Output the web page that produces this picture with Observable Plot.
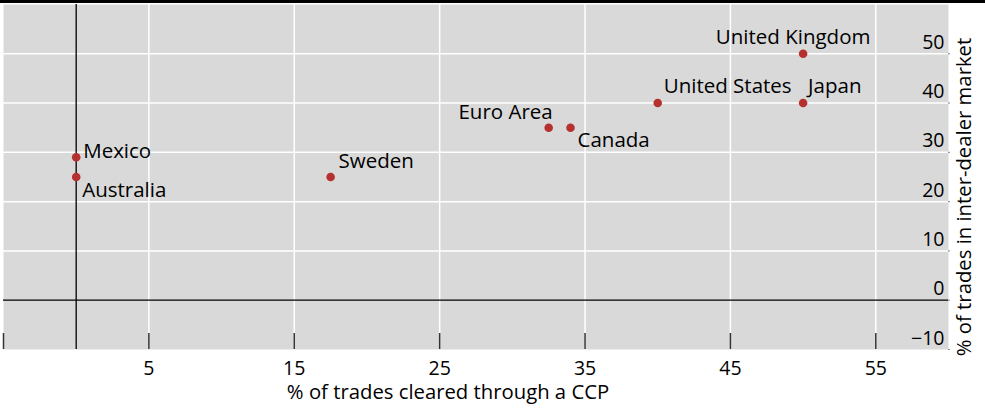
<!DOCTYPE html>
<html>
<head>
<meta charset="utf-8">
<script src="https://cdn.jsdelivr.net/npm/d3@7"></script>
<script src="https://cdn.jsdelivr.net/npm/@observablehq/plot@0.6"></script>
<style>
  html, body { margin: 0; padding: 0; background: #fff; }
  #chart { width: 985px; border-top: 3px solid #000; }
  #chart svg { display: block; }
</style>
</head>
<body>
<div id="chart"></div>
<script>
// ---- data ----
const countries = ["Mexico", "Australia", "Sweden", "Euro Area", "Canada", "United States", "Japan", "United Kingdom"];
const clearedCCP = [0, 0, 17.5, 32.5, 34, 40, 50, 50];          // % of trades cleared through a CCP
const interDealer = [29, 25, 25, 35, 35, 40, 40, 50];           // % of trades in inter-dealer market
const xTickLabels = [5, 15, 25, 35, 45, 55];
const xTickMarks = [-5, 5, 15, 25, 35, 45, 55];
const yTickLabels = [-10, 0, 10, 20, 30, 40, 50];
const yGrid = [10, 20, 30, 40, 50];
const xTitle = "% of trades cleared through a CCP";
const yTitle = "% of trades in inter-dealer market";

const data = countries.map((c, i) => ({country: c, x: clearedCCP[i], y: interDealer[i]}));

// ---- label placement (layout only) ----
const placement = {
  "Mexico":         {dx: 7,   dy: -6,  anchor: "start"},
  "Australia":      {dx: 6,   dy: 13,  anchor: "start"},
  "Sweden":         {dx: 8,   dy: -16, anchor: "start"},
  "Euro Area":      {dx: 4,   dy: -15, anchor: "end"},
  "Canada":         {dx: 7,   dy: 13,  anchor: "start"},
  "United States":  {dx: 6,   dy: -17, anchor: "start"},
  "Japan":          {dx: 5,   dy: -17, anchor: "start"},
  "United Kingdom": {dx: -10, dy: -16, anchor: "middle"}
};

const W = 985, H = 405;
const mT = 1, mB = 59, mL = 3, mR = 37;
const frameH = H - mT - mB;
const frameW = W - mL - mR;
const font = "'Open Sans', 'Noto Sans', sans-serif";
const fmt = d3.format("d");

const labelMarks = data.map(d => {
  const p = placement[d.country];
  return Plot.text([d], {x: "x", y: "y", text: "country", dx: p.dx, dy: p.dy,
    textAnchor: p.anchor, fontSize: 20.5, fontWeight: 500, fill: "#000"});
});

const chart = Plot.plot({
  width: W, height: H,
  marginTop: mT, marginBottom: mB, marginLeft: mL, marginRight: mR,
  style: {fontFamily: font, background: "#fff", overflow: "visible"},
  x: {domain: [-5, 60], axis: null},
  y: {domain: [-10, 60], axis: null},
  marks: [
    Plot.frame({fill: "#d9d9d9", stroke: null}),
    Plot.ruleX(xTickLabels, {stroke: "#fff", strokeWidth: 1.5}),
    Plot.ruleY(yGrid, {stroke: "#fff", strokeWidth: 1.5}),
    Plot.ruleX([0], {stroke: "#000", strokeWidth: 1.3}),
    Plot.ruleY([0], {stroke: "#000", strokeWidth: 1.3}),
    Plot.ruleX(xTickMarks, {insetTop: frameH - 16, stroke: "#333", strokeWidth: 1.5}),
    Plot.ruleY(yTickLabels, {insetLeft: frameW, insetRight: -2, stroke: "#888", strokeWidth: 1}),
    Plot.dot(data, {x: "x", y: "y", r: 4.3, fill: "#b5312f", stroke: null}),
    ...labelMarks,
    Plot.text(xTickLabels, {x: d => d, text: d => fmt(d), frameAnchor: "bottom", dy: 25,
      fontSize: 19.5, fontWeight: 500, fill: "#000"}),
    Plot.text(yTickLabels, {y: d => d, text: d => fmt(d), frameAnchor: "right", textAnchor: "end",
      lineAnchor: "bottom", dx: -4, dy: -5, fontSize: 19.5, fontWeight: 500, fill: "#000"}),
    Plot.text([xTitle], {frameAnchor: "bottom", textAnchor: "middle", dx: -28, dy: 49,
      fontSize: 20.3, fontWeight: 500, fill: "#000"}),
    Plot.text([yTitle], {frameAnchor: "right", textAnchor: "middle", rotate: -90, dx: 16, dy: 20,
      fontSize: 20.3, fontWeight: 500, fill: "#000"})
  ]
});

document.getElementById("chart").appendChild(chart);
</script>
</body>
</html>
